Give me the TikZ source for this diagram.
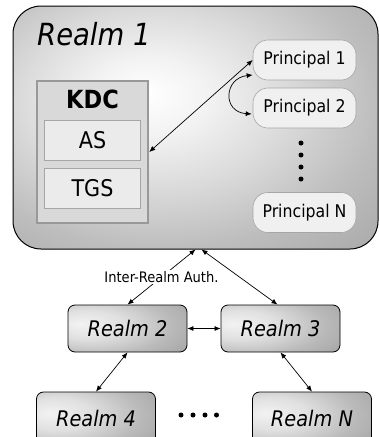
\documentclass[tikz,border=0pt]{standalone}
\usepackage{fontspec}
\setmainfont{DejaVuSansCondensed}[Extension=.ttf, BoldFont=*-Bold, ItalicFont=*-Oblique, BoldItalicFont=*-BoldOblique]
\usetikzlibrary{arrows.meta,calc}
\pgfdeclareradialshading{realmone}{\pgfpoint{-7bp}{7bp}}{color(0bp)=(white); color(8bp)=(black!5); color(18bp)=(black!14); color(30bp)=(black!26); color(45bp)=(black!36); color(100bp)=(black!42)}
\pgfdeclareradialshading{realmsmall}{\pgfpoint{-20bp}{5bp}}{color(0bp)=(black!5); color(15bp)=(black!12); color(32bp)=(black!27); color(50bp)=(black!38); color(100bp)=(black!44)}
\tikzset{
  arr/.style={{Latex[length=6pt,width=5pt]}-{Latex[length=6pt,width=5pt]}, line width=0.7pt},
  realmbox/.style={draw=black, line width=0.8pt, rounded corners=7pt, minimum width=119pt, minimum height=47pt, shading=realmsmall, font=\itshape\fontsize{21.5}{25}\selectfont, inner sep=0pt},
  pill/.style={draw=black!35, line width=0.6pt, fill=black!6, rounded corners=15pt, minimum width=103pt, minimum height=40pt, font=\fontsize{17.5}{20}\selectfont, inner sep=0pt},
  subbox/.style={draw=black!35, line width=0.8pt, fill=black!8, minimum width=96pt, minimum height=40pt, font=\fontsize{23}{26}\selectfont, inner sep=0pt},
  dotmark/.style={fill=black, circle, inner sep=0pt, minimum size=5pt}
}
\begin{document}
\begin{tikzpicture}[x=1pt,y=-1pt]
\useasboundingbox (0,0) rectangle (379,437);
\clip (0,0) rectangle (379,437);
% Realm 1
\node[draw=black, line width=1pt, rounded corners=28pt, minimum width=365pt, minimum height=243pt, shading=realmone, inner sep=0pt] (r1) at (195.5,127.5) {};
\node[anchor=base west, font=\itshape\fontsize{30.5}{35}\selectfont, inner sep=0pt] (t1) at (37,45) {Realm 1};
% KDC
\node[draw=black!40, line width=2.5pt, fill=black!15, minimum width=111pt, minimum height=142pt, inner sep=0pt] (kdc) at (92.5,152) {};
\node[font=\bfseries\fontsize{25}{28}\selectfont, inner sep=0pt] (kdct) at (92.5,99) {KDC};
\node[subbox] (as) at (92.5,140) {AS};
\node[subbox] (tgs) at (92.5,188) {TGS};
% Principals
\node[pill] (p1) at (304.5,60) {Principal 1};
\node[pill] (p2) at (304.5,108) {Principal 2};
\node[pill] (pn) at (304.5,212.5) {Principal N};
\node[dotmark] (d1) at (301,143) {};
\node[dotmark] (d2) at (301,155) {};
\node[dotmark] (d3) at (301,167) {};
\node[dotmark] (d4) at (301,179) {};
\draw[arr] (kdc.east) -- (p1.west);
\draw[arr] ($(p1.west)+(0,15)$) .. controls (224,78) and (222,112) .. ($(p2.west)+(-1,6)$);
% other realms
\node[realmbox] (r2) at (127.5,328.5) {Realm 2};
\node[realmbox] (r3) at (280.5,328.5) {Realm 3};
\node[realmbox, minimum height=53pt] (r4) at (96,418.5) {Realm 4};
\node[realmbox, minimum height=53pt] (rn) at (312,418.5) {Realm N};
\node[dotmark] (e1) at (181,415) {};
\node[dotmark] (e2) at (193,415) {};
\node[dotmark] (e3) at (205,415) {};
\node[dotmark] (e4) at (216.5,415) {};
\draw[arr] (r2.north) -- node[fill=white, inner sep=1.5pt, font=\fontsize{14.5}{17}\selectfont] (lab) {Inter-Realm Auth.} (r1.south);
\draw[arr] ($(r1.south)+(6,0)$) -- ($(r3.north)+(-3,0)$);
\draw[arr] (r2.east) -- (r3.west);
\draw[arr] (r2.south) -- (r4.north);
\draw[arr] (r3.south) -- (rn.north);
\end{tikzpicture}
\end{document}
